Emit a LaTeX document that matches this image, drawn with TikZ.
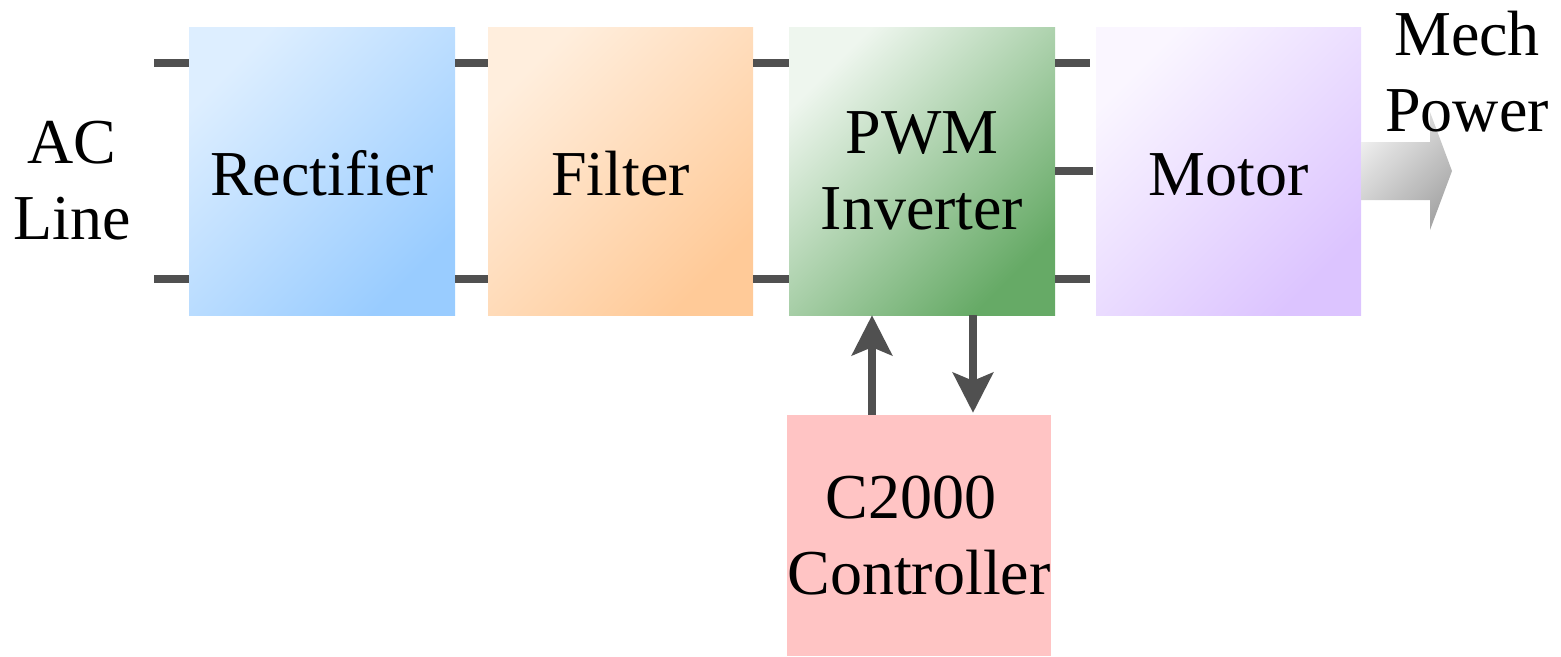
\documentclass[tikz,border=0pt]{standalone}
\usepackage{fontspec}
\setmainfont{Liberation Serif}
\usetikzlibrary{arrows.meta}
\definecolor{wire}{HTML}{505050}
\definecolor{recA}{HTML}{DDEEFF}
\definecolor{recB}{HTML}{99CCFF}
\definecolor{filA}{HTML}{FFEEDD}
\definecolor{filB}{HTML}{FFCA98}
\definecolor{pwmA}{HTML}{EEF6EE}
\definecolor{pwmB}{HTML}{66AA66}
\definecolor{motA}{HTML}{FAF6FF}
\definecolor{motB}{HTML}{DCC4FF}
\definecolor{ctlC}{HTML}{FFC4C4}
\definecolor{gryA}{HTML}{EEEEEE}
\definecolor{gryB}{HTML}{A6A6A6}
\begin{document}
\begin{tikzpicture}[x=1pt,y=-1pt,
  font=\fontsize{64}{76}\selectfont,
  blk/.style 2 args={rectangle, inner sep=0pt, align=center,
    top color=#1, bottom color=#2, shading angle=45},
  oneline/.style={text height=48pt, text depth=0pt},
  lbl/.style={inner sep=0pt, align=center},
  wirel/.style={draw=wire, line width=8pt},
  ctlarrow/.style={draw=wire, line width=8pt,
    -{Stealth[length=40pt,width=40pt,inset=8pt]}}]
\useasboundingbox (0,0) rectangle (1561,656);

% blocks
\node[blk={recA}{recB}, oneline, minimum width=266pt, minimum height=288pt] (rect) at (322,171) {Rectifier};
\node[blk={filA}{filB}, oneline, minimum width=265pt, minimum height=288pt] (filt) at (620.5,171) {Filter};
\node[blk={pwmA}{pwmB}, minimum width=266pt, minimum height=288pt] (pwm) at (922,171) {PWM\\Inverter};
\node[blk={motA}{motB}, oneline, minimum width=265pt, minimum height=288pt] (motor) at (1228.5,171) {Motor};
\node[rectangle, fill=ctlC, inner sep=0pt, align=center, minimum width=264pt, minimum height=241pt] (ctrl) at (919,535.5) {C2000\hspace*{0.25em}\\Controller};

% big output arrow
\shade[top color=gryA, bottom color=gryB, shading angle=45]
  (1361,142) -- (1430,142) -- (1430,112) -- (1452,171) -- (1430,230) -- (1430,200) -- (1361,200) -- cycle;

% labels
\node[lbl] (acl) at (72,181) {AC\\Line};
\node[lbl] (mech) at (1467,72) {Mech\\Power};

% wires
\coordinate (inA) at (154,63);
\coordinate (inB) at (154,279);
\coordinate (mid) at (0,171);
\draw[wirel] (inA) -- (inA -| rect.west);
\draw[wirel] (inB) -- (inB -| rect.west);
\draw[wirel] (inA -| rect.east) -- (inA -| filt.west);
\draw[wirel] (inB -| rect.east) -- (inB -| filt.west);
\draw[wirel] (inA -| filt.east) -- (inA -| pwm.west);
\draw[wirel] (inB -| filt.east) -- (inB -| pwm.west);
\draw[wirel, shorten >=6pt] (inA -| pwm.east) -- (inA -| motor.west);
\draw[wirel, shorten >=3pt] (mid -| pwm.east) -- (mid -| motor.west);
\draw[wirel, shorten >=6pt] (inB -| pwm.east) -- (inB -| motor.west);

% controller arrows
\coordinate (ua) at (872,0);
\coordinate (da) at (973,0);
\draw[ctlarrow] (ua |- ctrl.north) -- (ua |- pwm.south);
\draw[ctlarrow, shorten >=2pt] (da |- pwm.south) -- (da |- ctrl.north);
\end{tikzpicture}
\end{document}
